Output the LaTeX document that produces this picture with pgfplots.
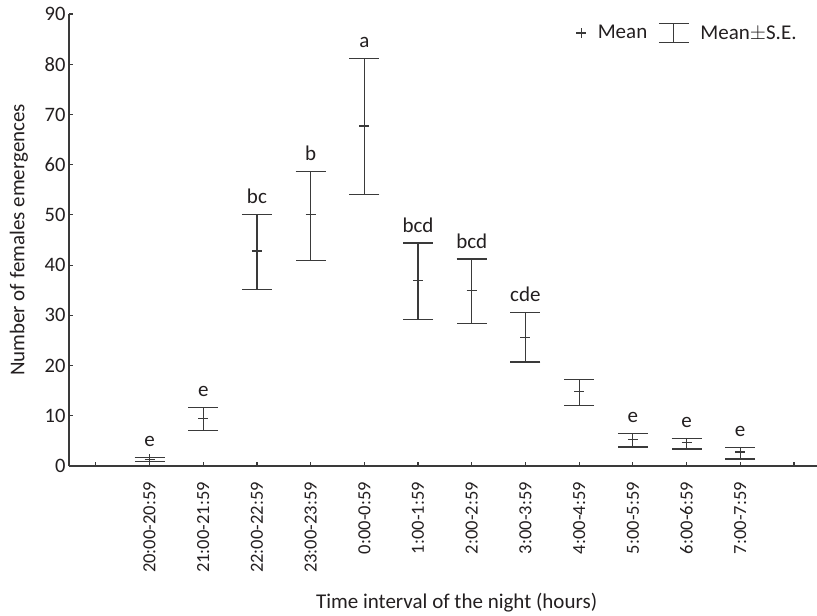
\documentclass[border=0pt]{standalone}
\usepackage{pgfplots}
\pgfplotsset{compat=1.18}
\usepackage{pgfplotstable}
\usepackage{fontspec}
\setmainfont{Carlito}
\definecolor{ink}{HTML}{231F20}
\definecolor{ln}{HTML}{3A3A3A}
\pgfplotstableread{
x m ep em
1 1.3 0.43 0.44
2 9.5 2.2 2.5
3 42.8 7.3 7.6
4 50.0 8.6 9.1
5 67.7 13.4 13.7
6 36.9 7.5 7.7
7 34.9 6.3 6.5
8 25.6 5.0 4.9
9 14.8 2.5 2.8
10 5.2 1.2 1.4
11 4.6 0.8 1.2
12 2.8 0.9 1.4
}\means
\pgfplotstableread{
x up lab
1 1.73 e
2 11.7 e
3 50.1 bc
4 58.6 b
5 81.1 a
6 44.4 bcd
7 41.2 bcd
8 30.6 cde
10 6.4 e
11 5.4 e
12 3.7 e
}\letters
\begin{document}
\begin{tikzpicture}
\begin{axis}[
  scale only axis,
  width=748pt, height=452pt,
  xmin=-0.5, xmax=13.43,
  ymin=0, ymax=90,
  axis x line=bottom, axis y line=left,
  axis line style={ln, line width=1.2pt, -},
  tick style={ln, line width=1.2pt},
  tick align=inside,
  major tick length=4pt,
  xtick={0,...,13},
  xticklabels={{},20:00-20:59,21:00-21:59,22:00-22:59,23:00-23:59,0:00-0:59,1:00-1:59,2:00-2:59,3:00-3:59,4:00-4:59,5:00-5:59,6:00-6:59,7:00-7:59,{}},
  ytick={0,10,...,90},
  /pgf/number format/assume math mode=true,
  yticklabel style={font=\fontsize{20.5}{22}\selectfont, text=ink},
  xticklabel style={font=\fontsize{18.5}{20}\selectfont, text=ink, rotate=90, anchor=east, inner sep=0pt},
  xticklabel shift=16pt,
  label style={font=\fontsize{21}{23}\selectfont, text=ink},
  xlabel={Time interval of the night (hours)},
  xlabel style={at={(axis description cs:0.330,0)}, anchor=base west, yshift=-142pt, inner sep=0pt},
  ylabel={Number of females emergences},
  ylabel style={at={(axis description cs:0,0.5)}, anchor=center, rotate=0, yshift=50pt, inner sep=0pt},
  clip=false,
  legend style={draw=none, fill=none, at={(0.973,0.958)}, anchor=east,
    inner sep=0pt, column sep=11pt,
    nodes={inner sep=0pt, font=\fontsize{21}{23}\selectfont, text=ink}},
  legend columns=2,
]
\addplot[only marks, mark=+, mark size=5pt, ln, line width=1.2pt,
  legend image code/.code={\draw[ln, line width=1.2pt] (0pt,0pt)--(10pt,0pt) (5pt,-5pt)--(5pt,5pt);}]
  table[x=x, y=m] {\means};
\addlegendentry{Mean}
\addplot[draw=none, mark=none, ln, line width=1.2pt, forget plot,
  error bars/.cd, y dir=both, y explicit,
  error bar style={ln, line width=1.2pt},
  error mark options={ln, line width=1.2pt, mark size=15pt, rotate=90}]
  table[x=x, y=m, y error plus=ep, y error minus=em] {\means};
\addlegendimage{legend image code/.code={\draw[ln, line width=1.2pt] (15pt,-9.5pt)--(15pt,9.5pt) (0pt,-9.5pt)--(30pt,-9.5pt) (0pt,9.5pt)--(30pt,9.5pt);}}
\addlegendentry{Mean$\pm$S.E.}
\addplot[only marks, mark=none, nodes near coords, point meta=explicit symbolic,
  nodes near coords style={anchor=base, yshift=11pt, inner sep=0pt, font=\fontsize{21}{23}\selectfont, text=ink}, forget plot]
  table[x=x, y=up, meta=lab] {\letters};
\end{axis}
\pgfresetboundingbox
\useasboundingbox (-69pt,-150pt) rectangle (748pt,466pt);
\end{tikzpicture}
\end{document}
